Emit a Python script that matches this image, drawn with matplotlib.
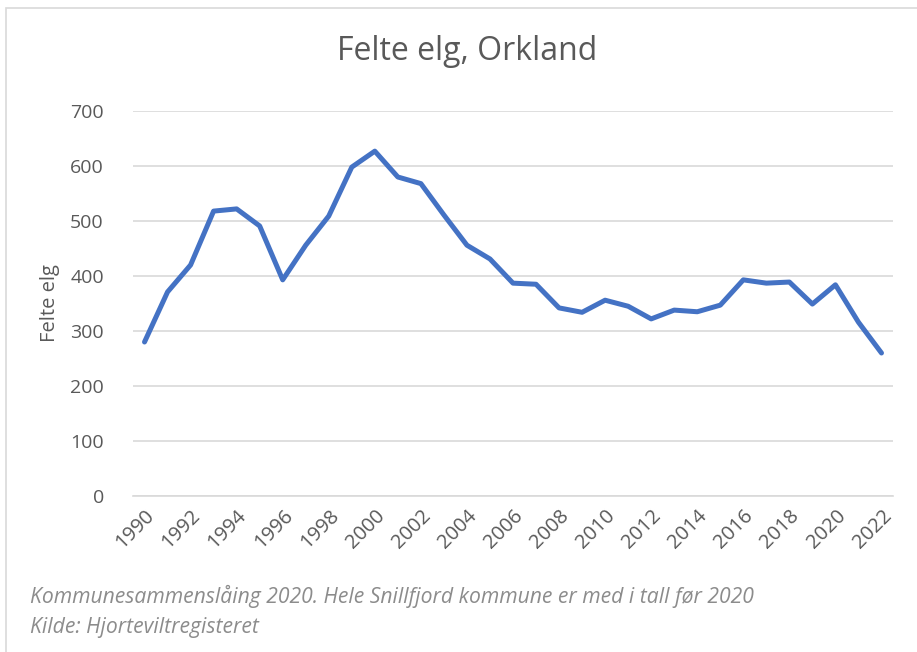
import matplotlib
matplotlib.use("Agg")
import matplotlib.pyplot as plt
from matplotlib.patches import Rectangle

# Felte elg per år, Orkland
years = list(range(1990, 2023))
felte = [280, 371, 420, 518, 522, 491, 393, 456, 509, 598,
         627, 580, 568, 511, 456, 431, 387, 385, 342, 334,
         356, 345, 322, 338, 335, 347, 393, 387, 389, 349,
         384, 316, 260]
y_ticks = [0, 100, 200, 300, 400, 500, 600, 700]
x_tick_years = years[::2]

title = "Felte elg, Orkland"
y_label = "Felte elg"
note_lines = ["Kommunesammenslåing 2020. Hele Snillfjord kommune er med i tall før 2020",
              "Kilde: Hjorteviltregisteret"]

plt.rcParams['font.family'] = ['Open Sans', 'DejaVu Sans']
text_col = "#595959"
grid_col = "#d9d9d9"

W, H = 917, 652
fig = plt.figure(figsize=(W / 100, H / 100), dpi=100)

# outer chart frame
fig.patches.append(Rectangle((6 / W, -0.05), 1.0, (H - 8) / H + 0.05,
                             transform=fig.transFigure, fill=False,
                             edgecolor=grid_col, linewidth=1.2))

ax = fig.add_axes([133 / W, (H - 496) / H, (893 - 133) / W, (496 - 111) / H])
ax.plot(years, felte, color="#4472C4", linewidth=3.6,
        solid_joinstyle="round", solid_capstyle="round", zorder=3)

ax.set_xlim(years[0] - 0.5, years[-1] + 0.5)
ax.set_ylim(0, 700)
ax.set_yticks(y_ticks)
ax.set_yticklabels([str(v) for v in y_ticks], fontsize=14, color=text_col)
ax.yaxis.grid(True, color=grid_col, linewidth=1.2)
ax.set_axisbelow(True)
ax.tick_params(axis="y", length=0, pad=21)

ax.set_xticks(x_tick_years)
ax.set_xticklabels([str(y) for y in x_tick_years], rotation=45, ha="right",
                   va="top", rotation_mode="anchor", fontsize=14.5, color=text_col)
ax.tick_params(axis="x", length=0, pad=7)

for s in ["top", "right", "left"]:
    ax.spines[s].set_visible(False)
ax.spines["bottom"].set_color(grid_col)
ax.spines["bottom"].set_linewidth(1.2)

ax.set_ylabel(y_label, fontsize=14.5, color=text_col)
ax.yaxis.set_label_coords(-73 / 760, 0.5)

fig.text(467 / W, 1 - 52 / H, title, ha="center", va="center",
         fontsize=23, color=text_col)

fig.text(30 / W, 1 - 596 / H, note_lines[0], ha="left", va="center",
         fontsize=15.2, color="#8c8c8c", style="italic")
fig.text(30 / W, 1 - 627 / H, note_lines[1], ha="left", va="center",
         fontsize=15.2, color="#8c8c8c", style="italic")

fig.savefig("out.png", dpi=100)
